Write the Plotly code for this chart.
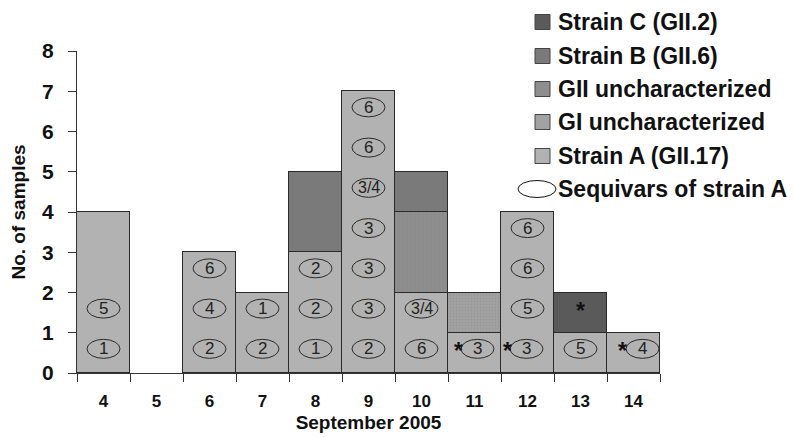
import plotly.graph_objects as go

days = ["4", "5", "6", "7", "8", "9", "10", "11", "12", "13", "14"]
strain_a = [4, 0, 3, 2, 3, 7, 2, 1, 4, 1, 1]
gi_unchar = [0, 0, 0, 0, 0, 0, 0, 1, 0, 0, 0]
gii_unchar = [0, 0, 0, 0, 0, 0, 2, 0, 0, 0, 0]
strain_b = [0, 0, 0, 0, 2, 0, 1, 0, 0, 0, 0]
strain_c = [0, 0, 0, 0, 0, 0, 0, 0, 0, 1, 0]

# sequivars of strain A: day, stack slot, label
seq_day = ["4", "4", "6", "6", "6", "7", "7", "8", "8", "8",
           "9", "9", "9", "9", "9", "9", "9", "10", "10", "11",
           "12", "12", "12", "12", "13", "14"]
seq_slot = [0, 1, 0, 1, 2, 0, 1, 0, 1, 2,
            0, 1, 2, 3, 4, 5, 6, 0, 1, 0,
            0, 1, 2, 3, 0, 0]
seq_label = ["1", "5", "2", "4", "6", "2", "1", "1", "2", "2",
             "2", "3", "3", "3", "3/4", "6", "6", "6", "3/4", "3",
             "3", "5", "6", "6", "5", "4"]
# asterisks
star_day = ["11", "12", "13", "14"]
star_slot = [0, 0, 1, 0]

FONT = "Liberation Sans, Arial, sans-serif"
INK = "#111111"
EDGE = "#2a2a2a"

# the page body adds an 8px offset; figure is sized to fit the window
OFF = 8
W, H = 795 - OFF, 437 - OFF
L, R, T, B = 77 - OFF, 795 - 660, 51 - OFF, 437 - 373
PW, PH = W - L - R, H - T - B

def px_x(p):  # screenshot pixel -> paper
    return (p - OFF - L) / PW

def px_y(p):
    return (H - B - (p - OFF)) / PH

# small pixel nudges for the starred ellipses/asterisks (style only)
ELLIPSE_NUDGE = {("11", 0): 3, ("12", 0): -1, ("14", 0): 9}
STAR_NUDGE = {("11", 0): -16, ("12", 0): -20, ("13", 1): 0, ("14", 0): -11}

def nz(v):
    return [x if x else None for x in v]

series = [
    ("Strain A (GII.17)", strain_a, "#b2b2b2", None),
    ("GI uncharacterized", gi_unchar, "#a2a2a2", dict(shape=".", fgcolor="#8c8c8c", size=3, solidity=0.3)),
    ("GII uncharacterized", gii_unchar, "#8e8e8e", dict(shape="|", fgcolor="#868686", size=4, solidity=0.3)),
    ("Strain B (GII.6)", strain_b, "#7a7a7a", None),
    ("Strain C (GII.2)", strain_c, "#5a5a5a", None),
]

fig = go.Figure()
for name, vals, col, pat in series:
    marker = dict(color=col, line=dict(color=EDGE, width=1))
    if pat:
        marker["pattern"] = pat
    fig.add_trace(go.Bar(x=days, y=nz(vals), name=name, marker=marker))

for d, s, lab in zip(seq_day, seq_slot, seq_label):
    xi = days.index(d)
    off = ELLIPSE_NUDGE.get((d, s), 0)
    fig.add_shape(type="circle", xref="x", yref="y", xsizemode="pixel", ysizemode="pixel",
                  xanchor=xi, yanchor=s + 0.6, x0=-16.5 + off, x1=16.5 + off, y0=-9.5, y1=9.5,
                  line=dict(color=EDGE, width=1))
    fig.add_annotation(x=xi, y=s + 0.6, xref="x", yref="y", text=lab, showarrow=False,
                       xshift=off, font=dict(family=FONT, size=17 if "/" not in lab else 16,
                                             color="#222222"))

for d, s in zip(star_day, star_slot):
    xi = days.index(d)
    fig.add_annotation(x=xi, y=s + 0.55, xref="x", yref="y", text="*", showarrow=False,
                       xshift=STAR_NUDGE.get((d, s), 0),
                       font=dict(family=FONT, size=23, color=INK, weight="bold"))

# manual legend (top item first)
leg_rows = [22, 56, 89, 122, 156]
for (name, _, col, _p), yc in zip(reversed(series), leg_rows):
    fig.add_shape(type="rect", xref="paper", yref="paper",
                  x0=px_x(535), x1=px_x(550), y0=px_y(yc + 7.5), y1=px_y(yc - 7.5),
                  fillcolor=col, line=dict(color="#444444", width=1))
    fig.add_annotation(xref="paper", yref="paper", x=px_x(556), y=px_y(yc), xanchor="left",
                       yanchor="middle", text=name, showarrow=False,
                       font=dict(family=FONT, size=23, color=INK, weight="bold"))
seq_y = 189
fig.add_shape(type="circle", xref="paper", yref="paper",
              x0=px_x(518), x1=px_x(556), y0=px_y(seq_y + 8.5), y1=px_y(seq_y - 8.5),
              line=dict(color=INK, width=1))
fig.add_annotation(xref="paper", yref="paper", x=px_x(556), y=px_y(seq_y), xanchor="left",
                   yanchor="middle", text="Sequivars of strain A", showarrow=False,
                   font=dict(family=FONT, size=23, color=INK, weight="bold"))

fig.update_layout(
    width=W, height=H,
    margin=dict(l=L, r=R, t=T, b=B),
    paper_bgcolor="white", plot_bgcolor="white",
    barmode="stack", bargap=0,
    showlegend=False,
    font=dict(family=FONT, color=INK),
)
fig.update_xaxes(type="category", range=[-0.5, 10.5], tickson="boundaries",
                 ticks="outside", ticklen=8, tickcolor="#333333", automargin=False,
                 showline=True, linecolor="#333333", linewidth=1, showgrid=False,
                 ticklabelstandoff=13,
                 tickfont=dict(family=FONT, size=17, color=INK, weight="bold"),
                 title=dict(text="September 2005", standoff=5,
                            font=dict(family=FONT, size=19, color=INK, weight="bold")))
fig.update_yaxes(range=[0, 8], dtick=1, ticks="outside", ticklen=8, tickcolor="#333333",
                 showline=True, linecolor="#333333", linewidth=1, showgrid=False, zeroline=False,
                 automargin=False, ticklabelstandoff=10,
                 tickfont=dict(family=FONT, size=21, color=INK, weight="bold"),
                 title=dict(text="No. of samples", standoff=12,
                            font=dict(family=FONT, size=19, color=INK, weight="bold")))

fig.write_html("out.html")
